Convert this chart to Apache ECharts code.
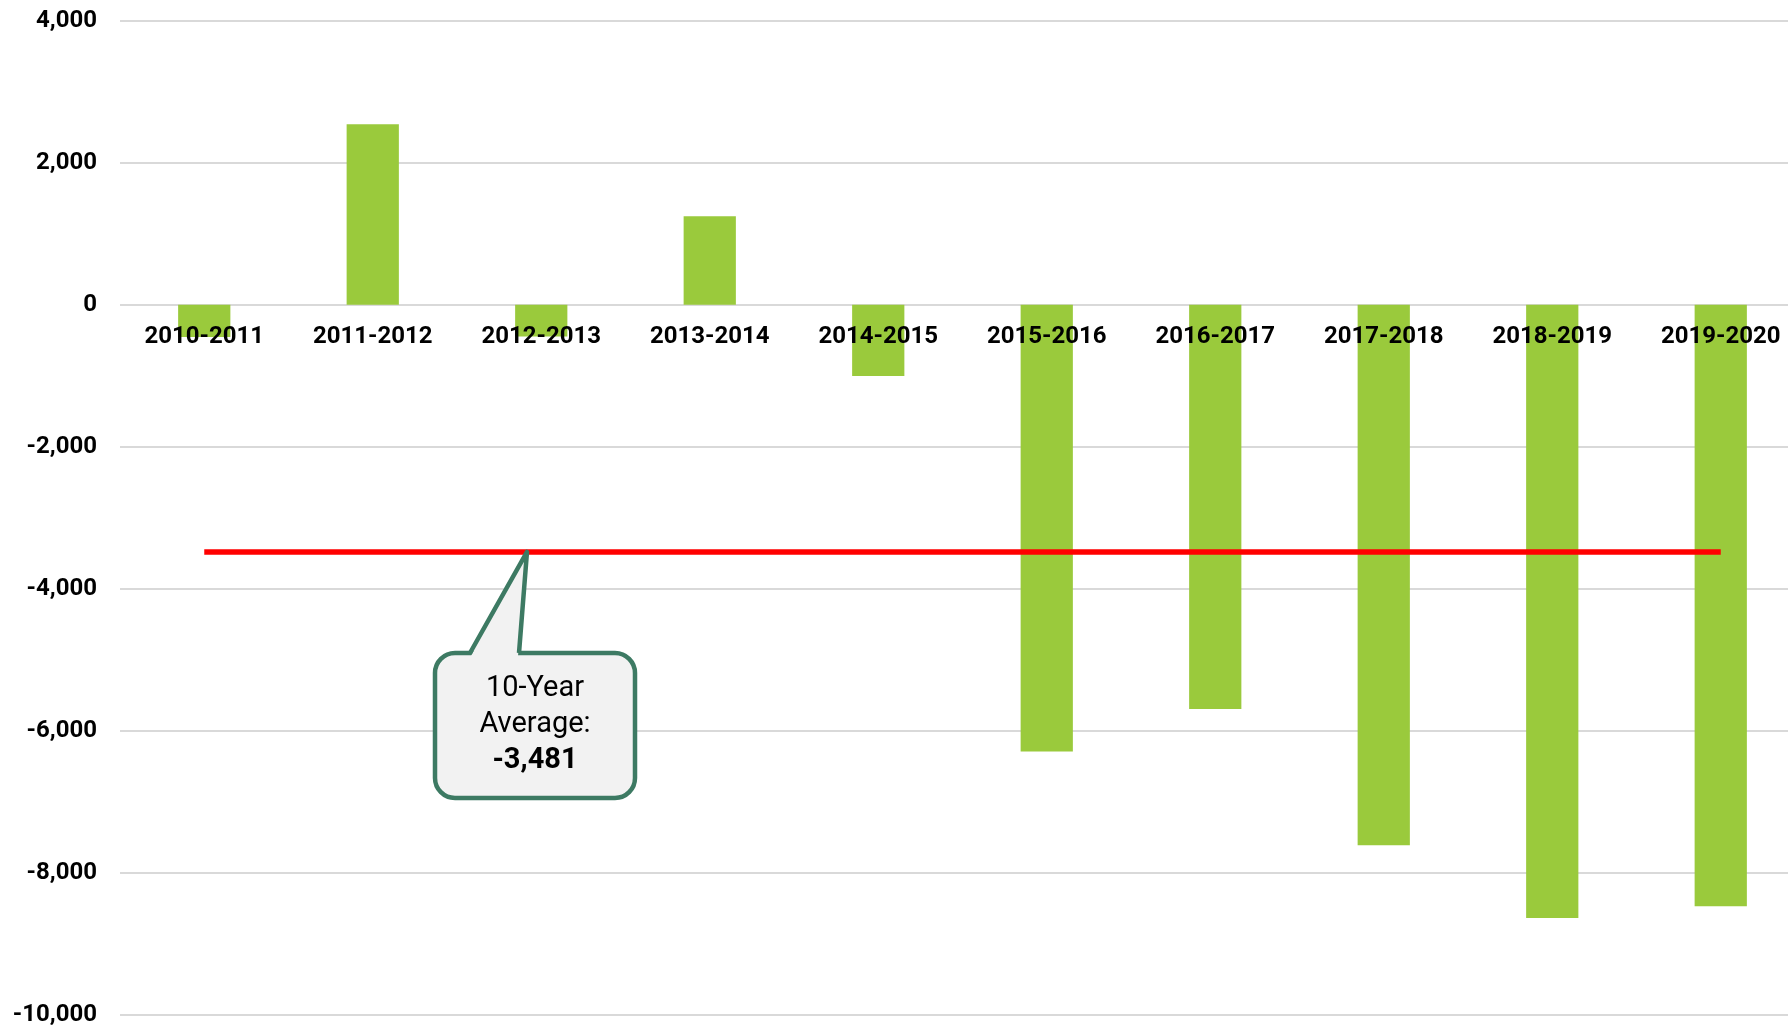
<!DOCTYPE html>
<html>
<head>
<meta charset="utf-8">
<script src="https://cdn.jsdelivr.net/npm/echarts@6/dist/echarts.min.js"></script>
<style>
  * { margin: 0; padding: 0; }
  html, body { width: 1788px; height: 1028px; background: #fff; overflow: hidden; }
  #chart1 { width: 1788px; height: 1028px; }
</style>
</head>
<body>
<div id="chart1"></div>
<script>
// school years on the x axis
var years = ['2010-2011', '2011-2012', '2012-2013', '2013-2014', '2014-2015',
             '2015-2016', '2016-2017', '2017-2018', '2018-2019', '2019-2020'];
// yearly values
var changes = [-456, 2540, -450, 1245, -1004, -6291, -5691, -7610, -8633, -8470];
// 10-year average shown by the red line
var average = -3481;
var avgLine = years.map(function () { return average; });
var yTicks = { min: -10000, max: 4000, interval: 2000 };

var plotH = 994.5;
// labels sit on the zero line, so pull the x axis up from the bottom edge
var zeroOffset = -(0 - yTicks.min) / (yTicks.max - yTicks.min) * plotH;

var dom = document.getElementById('chart1');
var chart = echarts.init(dom);

var option = {
  animation: false,
  backgroundColor: '#ffffff',
  grid: {
    left: 120, top: 20.5, width: 1685, height: plotH,
    containLabel: false, outerBoundsMode: 'none'
  },
  xAxis: {
    type: 'category',
    data: years,
    z: 3,
    offset: zeroOffset,
    axisLine: { show: false, onZero: false },
    axisTick: { show: false },
    axisLabel: {
      margin: 20,
      color: '#000',
      fontFamily: 'Roboto',
      fontWeight: 'bold',
      fontSize: 24
    }
  },
  yAxis: {
    type: 'value',
    min: yTicks.min,
    max: yTicks.max,
    interval: yTicks.interval,
    axisLine: { show: false },
    axisTick: { show: false },
    splitLine: { lineStyle: { color: '#d9d9d9', width: 2 } },
    axisLabel: {
      margin: 23,
      color: '#000',
      fontFamily: 'Roboto',
      fontWeight: 'bold',
      fontSize: 24,
      formatter: function (v) { return v.toLocaleString('en-US'); }
    }
  },
  series: [{
    type: 'bar',
    data: changes,
    barWidth: '31%',
    itemStyle: { color: '#9aca3c' },
    z: 2
  }, {
    type: 'line',
    data: avgLine,
    symbol: 'none',
    lineStyle: { color: '#ff0000', width: 5.5 },
    z: 4
  }]
};
chart.setOption(option);

// callout bubble pointing at the average line
var tipY = chart.convertToPixel({ yAxisIndex: 0 }, average);
var L = 435, R = 635, T = 653, B = 798;
var green = '#3d7a63', fill = '#f2f2f2';

chart.setOption({
  graphic: [{
    type: 'rect',
    z: 100,
    shape: { x: L, y: T, width: R - L, height: B - T, r: 20 },
    style: { fill: fill, stroke: green, lineWidth: 4.5 }
  }, {
    type: 'polygon',
    z: 101,
    shape: { points: [[471, T + 3], [527, tipY], [518, T + 3]] },
    style: { fill: fill }
  }, {
    type: 'polyline',
    z: 102,
    shape: { points: [[470, T], [527, tipY], [519, T]] },
    style: { fill: null, stroke: green, lineWidth: 4.5, lineJoin: 'round' }
  }, {
    type: 'text', z: 103, x: 535, y: 689,
    style: { text: '10-Year', fill: '#000', font: '29px Roboto', textAlign: 'center', textVerticalAlign: 'middle' }
  }, {
    type: 'text', z: 103, x: 535, y: 725,
    style: { text: 'Average:', fill: '#000', font: '29px Roboto', textAlign: 'center', textVerticalAlign: 'middle' }
  }, {
    type: 'text', z: 103, x: 535, y: 761,
    style: { text: average.toLocaleString('en-US'), fill: '#000', font: 'bold 29px Roboto', textAlign: 'center', textVerticalAlign: 'middle' }
  }]
});
</script>
</body>
</html>
